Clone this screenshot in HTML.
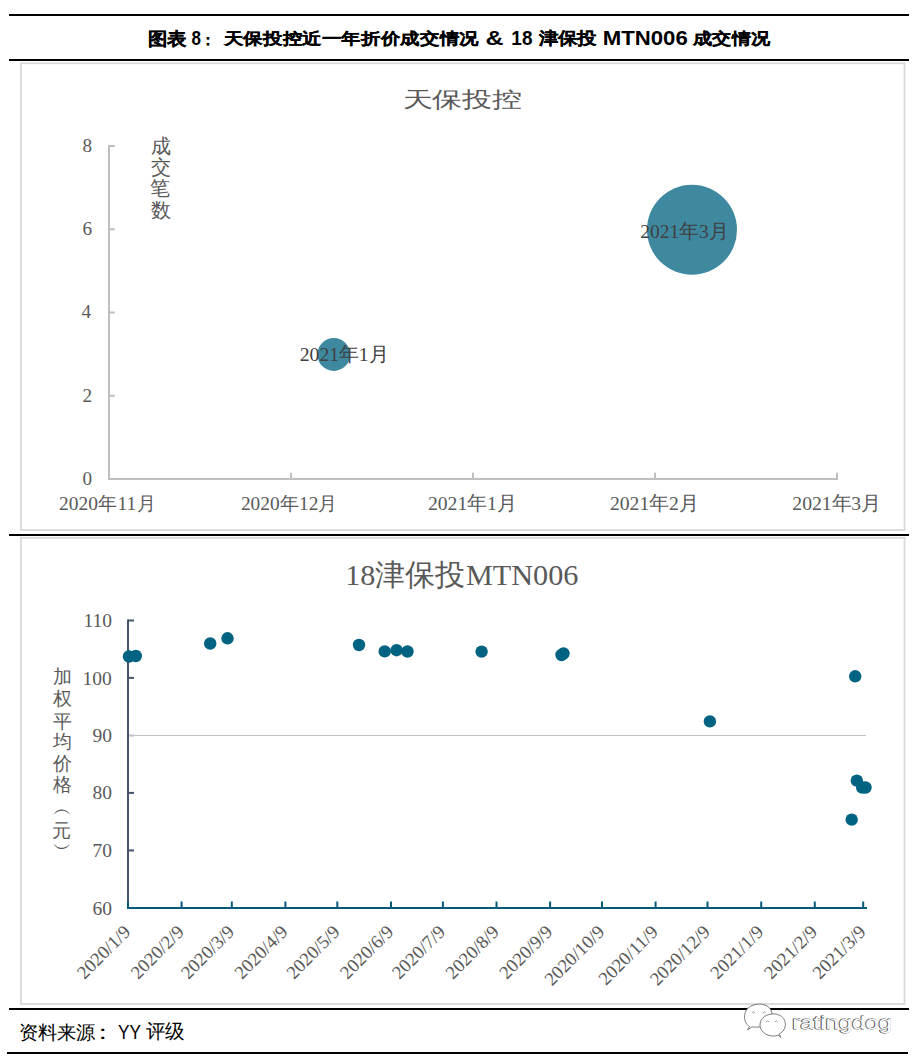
<!DOCTYPE html>
<html><head><meta charset="utf-8">
<style>
html,body{margin:0;padding:0;background:#fff;}
body{width:919px;height:1064px;position:relative;overflow:hidden;}
svg{position:absolute;left:0;top:0;}
</style></head><body>
<svg width="919" height="1064" viewBox="0 0 919 1064">
<rect x="9" y="14" width="900" height="2" fill="#000"/>
<rect x="9" y="59" width="900" height="2" fill="#000"/>
<rect x="9" y="534" width="900" height="2" fill="#000"/>
<rect x="9" y="1008" width="900" height="2" fill="#000"/>
<rect x="7" y="1052" width="901" height="2" fill="#000"/>
<rect x="20.9" y="63.3" width="883.6" height="466.7" fill="none" stroke="#d9d9d9" stroke-width="1.8"/>
<rect x="20.9" y="537.8" width="883.6" height="466.2" fill="none" stroke="#d9d9d9" stroke-width="1.8"/>
<g stroke="#bfbfbf" stroke-width="2" fill="none">
<line x1="109" y1="145" x2="109" y2="480"/>
<line x1="108" y1="479" x2="838" y2="479"/>
<line x1="109" y1="146" x2="114.8" y2="146"/>
<line x1="109" y1="229.25" x2="114.8" y2="229.25"/>
<line x1="109" y1="312.5" x2="114.8" y2="312.5"/>
<line x1="109" y1="395.75" x2="114.8" y2="395.75"/>
<line x1="291" y1="472.8" x2="291" y2="479"/>
<line x1="473" y1="472.8" x2="473" y2="479"/>
<line x1="655" y1="472.8" x2="655" y2="479"/>
<line x1="837" y1="472.8" x2="837" y2="479"/>
</g>
<g fill="#3e89a0"><circle cx="333.8" cy="354.5" r="16.4"/><circle cx="692" cy="229.8" r="45"/></g>
<line x1="128" y1="735.5" x2="866" y2="735.5" stroke="#bfbfbf" stroke-width="1"/>
<line x1="128.5" y1="735.5" x2="134.3" y2="735.5" stroke="#bfc3cb" stroke-width="2.2"/>
<g stroke="#44546a" stroke-width="2">
<line x1="128" y1="619.5" x2="128" y2="902"/>
<line x1="128" y1="620.5" x2="134" y2="620.5"/>
<line x1="128" y1="677.9" x2="134" y2="677.9"/>
<line x1="128" y1="792.9" x2="134" y2="792.9"/>
<line x1="128" y1="850.44" x2="134" y2="850.44"/>
</g>
<g stroke="#03597a" stroke-width="2">
<line x1="128" y1="902" x2="128" y2="909"/>
<line x1="127" y1="908" x2="867" y2="908"/>
<line x1="181.6" y1="901.5" x2="181.6" y2="908"/>
<line x1="231.8" y1="901.5" x2="231.8" y2="908"/>
<line x1="285.4" y1="901.5" x2="285.4" y2="908"/>
<line x1="337.3" y1="901.5" x2="337.3" y2="908"/>
<line x1="391.0" y1="901.5" x2="391.0" y2="908"/>
<line x1="442.9" y1="901.5" x2="442.9" y2="908"/>
<line x1="496.5" y1="901.5" x2="496.5" y2="908"/>
<line x1="550.1" y1="901.5" x2="550.1" y2="908"/>
<line x1="602.0" y1="901.5" x2="602.0" y2="908"/>
<line x1="655.6" y1="901.5" x2="655.6" y2="908"/>
<line x1="707.5" y1="901.5" x2="707.5" y2="908"/>
<line x1="761.2" y1="901.5" x2="761.2" y2="908"/>
<line x1="814.8" y1="901.5" x2="814.8" y2="908"/>
<line x1="863.2" y1="901.5" x2="863.2" y2="908"/>
</g>
<text transform="translate(131.5,933) rotate(-45)" text-anchor="end" font-size="18.67" font-family='"Liberation Serif", serif' fill="#595959">2020/1/9</text>
<text transform="translate(185.1,933) rotate(-45)" text-anchor="end" font-size="18.67" font-family='"Liberation Serif", serif' fill="#595959">2020/2/9</text>
<text transform="translate(235.3,933) rotate(-45)" text-anchor="end" font-size="18.67" font-family='"Liberation Serif", serif' fill="#595959">2020/3/9</text>
<text transform="translate(288.9,933) rotate(-45)" text-anchor="end" font-size="18.67" font-family='"Liberation Serif", serif' fill="#595959">2020/4/9</text>
<text transform="translate(340.8,933) rotate(-45)" text-anchor="end" font-size="18.67" font-family='"Liberation Serif", serif' fill="#595959">2020/5/9</text>
<text transform="translate(394.5,933) rotate(-45)" text-anchor="end" font-size="18.67" font-family='"Liberation Serif", serif' fill="#595959">2020/6/9</text>
<text transform="translate(446.4,933) rotate(-45)" text-anchor="end" font-size="18.67" font-family='"Liberation Serif", serif' fill="#595959">2020/7/9</text>
<text transform="translate(500.0,933) rotate(-45)" text-anchor="end" font-size="18.67" font-family='"Liberation Serif", serif' fill="#595959">2020/8/9</text>
<text transform="translate(553.6,933) rotate(-45)" text-anchor="end" font-size="18.67" font-family='"Liberation Serif", serif' fill="#595959">2020/9/9</text>
<text transform="translate(605.5,933) rotate(-45)" text-anchor="end" font-size="18.67" font-family='"Liberation Serif", serif' fill="#595959">2020/10/9</text>
<text transform="translate(659.1,933) rotate(-45)" text-anchor="end" font-size="18.67" font-family='"Liberation Serif", serif' fill="#595959">2020/11/9</text>
<text transform="translate(711.0,933) rotate(-45)" text-anchor="end" font-size="18.67" font-family='"Liberation Serif", serif' fill="#595959">2020/12/9</text>
<text transform="translate(764.7,933) rotate(-45)" text-anchor="end" font-size="18.67" font-family='"Liberation Serif", serif' fill="#595959">2021/1/9</text>
<text transform="translate(818.3,933) rotate(-45)" text-anchor="end" font-size="18.67" font-family='"Liberation Serif", serif' fill="#595959">2021/2/9</text>
<text transform="translate(866.8,933) rotate(-45)" text-anchor="end" font-size="18.67" font-family='"Liberation Serif", serif' fill="#595959">2021/3/9</text>
<g fill="#006381"><circle cx="129" cy="656.5" r="6.2"/><circle cx="135.8" cy="656" r="6.2"/><circle cx="210.2" cy="643.5" r="6.2"/><circle cx="227.5" cy="638.3" r="6.2"/><circle cx="359" cy="645" r="6.2"/><circle cx="384.7" cy="651.4" r="6.2"/><circle cx="396.6" cy="650.2" r="6.2"/><circle cx="407.5" cy="651.5" r="6.2"/><circle cx="481.6" cy="651.6" r="6.2"/><circle cx="561.5" cy="655" r="6.2"/><circle cx="563.5" cy="653.5" r="6.2"/><circle cx="709.9" cy="721.4" r="6.2"/><circle cx="855.2" cy="676.3" r="6.2"/><circle cx="856.8" cy="780.6" r="6.2"/><circle cx="862.2" cy="787.5" r="6.2"/><circle cx="865.5" cy="787.5" r="6.2"/><circle cx="851.7" cy="819.6" r="6.2"/></g>
<g stroke="#6e6e6e" stroke-width="0.9" fill="#fff">
<path d="M749.5 1026.5 C742 1022 743 1009 752 1005.5 C760 1002.5 770 1004 772 1013 C773 1019 768 1026 759 1027 C756 1027.3 753 1027 752 1026.8 L747.5 1030 Z"/>
<path d="M779 1034 C788 1030 787 1018 779 1015 C772 1012 761 1015 760 1024 C759.5 1031 766 1036 773 1036 C775 1036 777 1035.5 778 1035 L781 1037.5 Z"/>
</g>
<g stroke="#888" stroke-width="0.8" fill="none">
<path d="M752 1013 q1.5 -2.5 3 0"/><path d="M762.8 1013 q1.5 -2.5 3 0"/>
<path d="M766 1022 q1.5 -2.2 3 0"/><path d="M774.8 1022 q1.5 -2.2 3 0"/>
</g>
<g transform="matrix(0.9487 0 0 0.8800 147.95 44.86)"><text x="0.00" y="0" font-size="20.00" font-family='"Liberation Sans", sans-serif' font-weight="bold" fill="#000" stroke="#000" stroke-width="0.25" style="white-space:pre">图表</text></g>
<g transform="matrix(0.8500 0 0 1.0500 191.55 44.70)"><text x="0.00" y="0" font-size="20.00" font-family='"Liberation Sans", sans-serif' font-weight="bold" fill="#000" style="white-space:pre">8</text></g>
<g transform="matrix(0.7000 0 0 0.7583 201.20 44.74)"><text x="0.00" y="0" font-size="20.00" font-family='"Liberation Sans", sans-serif' font-weight="bold" fill="#000" stroke="#000" stroke-width="0.25" style="white-space:pre">：</text></g>
<g transform="matrix(0.9692 0 0 0.8000 223.70 44.30)"><text x="0.00" y="0" font-size="20.00" font-family='"Liberation Sans", sans-serif' font-weight="bold" fill="#000" stroke="#000" stroke-width="0.25" style="white-space:pre">天保投控近一年折价成交情况</text></g>
<g transform="matrix(1.2462 0 0 1.0500 485.55 44.70)"><text x="0.00" y="0" font-size="20.00" font-family='"Liberation Sans", sans-serif' font-weight="bold" fill="#000" style="white-space:pre">&amp;</text></g>
<g transform="matrix(0.9476 0 0 1.0500 511.35 44.70)"><text x="0.00" y="0" font-size="20.00" font-family='"Liberation Sans", sans-serif' font-weight="bold" fill="#000" style="white-space:pre">18</text></g>
<g transform="matrix(0.9583 0 0 0.8381 539.10 44.15)"><text x="0.00" y="0" font-size="20.00" font-family='"Liberation Sans", sans-serif' font-weight="bold" fill="#000" stroke="#000" stroke-width="0.25" style="white-space:pre">津保投</text></g>
<g transform="matrix(1.1093 0 0 1.0500 602.69 44.70)"><text x="0.00" y="0" font-size="20.00" font-family='"Liberation Sans", sans-serif' font-weight="bold" fill="#000" style="white-space:pre">MTN006</text></g>
<g transform="matrix(0.9550 0 0 0.8000 692.60 44.30)"><text x="0.00" y="0" font-size="20.00" font-family='"Liberation Sans", sans-serif' font-weight="bold" fill="#000" stroke="#000" stroke-width="0.25" style="white-space:pre">成交情况</text></g>
<g transform="matrix(1.0327 0 0 0.7571 402.63 107.07)"><text x="0.00" y="0" font-size="29.00" font-family='"Liberation Serif", serif' fill="#595959" style="white-space:pre">天保投控</text></g>
<g transform="matrix(1.0000 0 0 1.0000 82.40 152.20)"><text x="0.00" y="0" font-size="19.20" font-family='"Liberation Serif", serif' fill="#595959" style="white-space:pre">8</text></g>
<g transform="matrix(1.0000 0 0 1.0000 82.40 235.20)"><text x="0.00" y="0" font-size="19.20" font-family='"Liberation Serif", serif' fill="#595959" style="white-space:pre">6</text></g>
<g transform="matrix(1.0000 0 0 1.0000 81.40 318.20)"><text x="0.00" y="0" font-size="19.20" font-family='"Liberation Serif", serif' fill="#595959" style="white-space:pre">4</text></g>
<g transform="matrix(1.0000 0 0 1.0000 82.40 401.70)"><text x="0.00" y="0" font-size="19.20" font-family='"Liberation Serif", serif' fill="#595959" style="white-space:pre">2</text></g>
<g transform="matrix(1.0000 0 0 1.0000 82.40 484.70)"><text x="0.00" y="0" font-size="19.20" font-family='"Liberation Serif", serif' fill="#595959" style="white-space:pre">0</text></g>
<g transform="matrix(1.0416 0 0 1.0416 59.06 510.10)"><text x="0.00" y="0" font-size="18.67" font-family='"Liberation Serif", serif' fill="#595959" style="white-space:pre">2020</text>
<text x="37.34" y="0" font-size="18.67" font-family='"Liberation Serif", serif' fill="#595959" style="white-space:pre">年</text>
<text x="56.01" y="0" font-size="18.67" font-family='"Liberation Serif", serif' fill="#595959" style="white-space:pre">11</text>
<text x="74.68" y="0" font-size="18.67" font-family='"Liberation Serif", serif' fill="#595959" style="white-space:pre">月</text></g>
<g transform="matrix(1.0360 0 0 1.0360 240.96 510.10)"><text x="0.00" y="0" font-size="18.67" font-family='"Liberation Serif", serif' fill="#595959" style="white-space:pre">2020</text>
<text x="37.34" y="0" font-size="18.67" font-family='"Liberation Serif", serif' fill="#595959" style="white-space:pre">年</text>
<text x="56.01" y="0" font-size="18.67" font-family='"Liberation Serif", serif' fill="#595959" style="white-space:pre">12</text>
<text x="74.68" y="0" font-size="18.67" font-family='"Liberation Serif", serif' fill="#595959" style="white-space:pre">月</text></g>
<g transform="matrix(1.0532 0 0 1.0532 427.95 510.10)"><text x="0.00" y="0" font-size="18.67" font-family='"Liberation Serif", serif' fill="#595959" style="white-space:pre">2021</text>
<text x="37.34" y="0" font-size="18.67" font-family='"Liberation Serif", serif' fill="#595959" style="white-space:pre">年</text>
<text x="56.01" y="0" font-size="18.67" font-family='"Liberation Serif", serif' fill="#595959" style="white-space:pre">1</text>
<text x="65.34" y="0" font-size="18.67" font-family='"Liberation Serif", serif' fill="#595959" style="white-space:pre">月</text></g>
<g transform="matrix(1.0532 0 0 1.0532 609.95 510.10)"><text x="0.00" y="0" font-size="18.67" font-family='"Liberation Serif", serif' fill="#595959" style="white-space:pre">2021</text>
<text x="37.34" y="0" font-size="18.67" font-family='"Liberation Serif", serif' fill="#595959" style="white-space:pre">年</text>
<text x="56.01" y="0" font-size="18.67" font-family='"Liberation Serif", serif' fill="#595959" style="white-space:pre">2</text>
<text x="65.34" y="0" font-size="18.67" font-family='"Liberation Serif", serif' fill="#595959" style="white-space:pre">月</text></g>
<g transform="matrix(1.0532 0 0 1.0532 792.35 510.10)"><text x="0.00" y="0" font-size="18.67" font-family='"Liberation Serif", serif' fill="#595959" style="white-space:pre">2021</text>
<text x="37.34" y="0" font-size="18.67" font-family='"Liberation Serif", serif' fill="#595959" style="white-space:pre">年</text>
<text x="56.01" y="0" font-size="18.67" font-family='"Liberation Serif", serif' fill="#595959" style="white-space:pre">3</text>
<text x="65.34" y="0" font-size="18.67" font-family='"Liberation Serif", serif' fill="#595959" style="white-space:pre">月</text></g>
<g transform="matrix(1.0532 0 0 1.0532 299.75 360.70)"><text x="0.00" y="0" font-size="18.67" font-family='"Liberation Serif", serif' fill="#404040" style="white-space:pre">2021</text>
<text x="37.34" y="0" font-size="18.67" font-family='"Liberation Serif", serif' fill="#404040" style="white-space:pre">年</text>
<text x="56.01" y="0" font-size="18.67" font-family='"Liberation Serif", serif' fill="#404040" style="white-space:pre">1</text>
<text x="65.34" y="0" font-size="18.67" font-family='"Liberation Serif", serif' fill="#404040" style="white-space:pre">月</text></g>
<g transform="matrix(1.0468 0 0 1.0468 640.25 237.90)"><text x="0.00" y="0" font-size="18.67" font-family='"Liberation Serif", serif' fill="#404040" style="white-space:pre">2021</text>
<text x="37.34" y="0" font-size="18.67" font-family='"Liberation Serif", serif' fill="#404040" style="white-space:pre">年</text>
<text x="56.01" y="0" font-size="18.67" font-family='"Liberation Serif", serif' fill="#404040" style="white-space:pre">3</text>
<text x="65.34" y="0" font-size="18.67" font-family='"Liberation Serif", serif' fill="#404040" style="white-space:pre">月</text></g>
<g transform="matrix(1.0000 0 0 1.0000 150.90 152.65)"><text x="0.00" y="0" font-size="20.00" font-family='"Liberation Serif", serif' fill="#595959" style="white-space:pre">成</text></g>
<g transform="matrix(1.0000 0 0 1.0000 150.90 173.85)"><text x="0.00" y="0" font-size="20.00" font-family='"Liberation Serif", serif' fill="#595959" style="white-space:pre">交</text></g>
<g transform="matrix(1.0000 0 0 1.0000 150.40 195.45)"><text x="0.00" y="0" font-size="20.00" font-family='"Liberation Serif", serif' fill="#595959" style="white-space:pre">笔</text></g>
<g transform="matrix(1.0000 0 0 1.0000 151.40 217.00)"><text x="0.00" y="0" font-size="20.00" font-family='"Liberation Serif", serif' fill="#595959" style="white-space:pre">数</text></g>
<g transform="matrix(0.9737 0 0 0.9737 345.28 585.00)"><text x="0.00" y="0" font-size="31.00" font-family='"Liberation Serif", serif' fill="#595959" style="white-space:pre">18</text>
<text x="31.00" y="0" font-size="31.00" font-family='"Liberation Serif", serif' fill="#595959" style="white-space:pre">津保投</text>
<text x="124.00" y="0" font-size="31.00" font-family='"Liberation Serif", serif' fill="#595959" style="white-space:pre">MTN006</text></g>
<g transform="matrix(1.0000 0 0 1.0000 83.40 626.90)"><text x="0.00" y="0" font-size="19.50" font-family='"Liberation Serif", serif' fill="#595959" style="white-space:pre">110</text></g>
<g transform="matrix(1.0000 0 0 1.0000 82.40 684.70)"><text x="0.00" y="0" font-size="19.50" font-family='"Liberation Serif", serif' fill="#595959" style="white-space:pre">100</text></g>
<g transform="matrix(1.0000 0 0 1.0000 92.40 742.10)"><text x="0.00" y="0" font-size="19.50" font-family='"Liberation Serif", serif' fill="#595959" style="white-space:pre">90</text></g>
<g transform="matrix(1.0000 0 0 1.0000 92.40 799.30)"><text x="0.00" y="0" font-size="19.50" font-family='"Liberation Serif", serif' fill="#595959" style="white-space:pre">80</text></g>
<g transform="matrix(1.0000 0 0 1.0000 92.40 857.00)"><text x="0.00" y="0" font-size="19.50" font-family='"Liberation Serif", serif' fill="#595959" style="white-space:pre">70</text></g>
<g transform="matrix(1.0000 0 0 1.0000 92.40 914.50)"><text x="0.00" y="0" font-size="19.50" font-family='"Liberation Serif", serif' fill="#595959" style="white-space:pre">60</text></g>
<g transform="matrix(1.0000 0 0 1.0000 52.60 683.00)"><text x="0.00" y="0" font-size="19.00" font-family='"Liberation Serif", serif' fill="#595959" style="white-space:pre">加</text></g>
<g transform="matrix(1.0000 0 0 1.0000 52.60 704.50)"><text x="0.00" y="0" font-size="19.00" font-family='"Liberation Serif", serif' fill="#595959" style="white-space:pre">权</text></g>
<g transform="matrix(1.0000 0 0 1.0000 52.60 727.70)"><text x="0.00" y="0" font-size="19.00" font-family='"Liberation Serif", serif' fill="#595959" style="white-space:pre">平</text></g>
<g transform="matrix(1.0000 0 0 1.0000 52.60 747.90)"><text x="0.00" y="0" font-size="19.00" font-family='"Liberation Serif", serif' fill="#595959" style="white-space:pre">均</text></g>
<g transform="matrix(1.0000 0 0 1.0000 52.60 770.00)"><text x="0.00" y="0" font-size="19.00" font-family='"Liberation Serif", serif' fill="#595959" style="white-space:pre">价</text></g>
<g transform="matrix(1.0000 0 0 1.0000 52.60 791.20)"><text x="0.00" y="0" font-size="19.00" font-family='"Liberation Serif", serif' fill="#595959" style="white-space:pre">格</text></g>
<g transform="matrix(1.0000 0 0 1.0000 53.10 815.05)"><text x="0.00" y="0" font-size="19.00" font-family='"Liberation Serif", serif' fill="#595959" style="white-space:pre">︵</text></g>
<g transform="matrix(1.0000 0 0 1.0000 52.10 836.50)"><text x="0.00" y="0" font-size="19.00" font-family='"Liberation Serif", serif' fill="#595959" style="white-space:pre">元</text></g>
<g transform="matrix(1.0000 0 0 1.0000 53.10 854.90)"><text x="0.00" y="0" font-size="19.00" font-family='"Liberation Serif", serif' fill="#595959" style="white-space:pre">︶</text></g>
<g transform="matrix(0.9436 0 0 0.9300 19.01 1038.61)"><text x="0.00" y="0" font-size="20.00" font-family='"Liberation Sans", sans-serif' fill="#000" style="white-space:pre">资料来源</text></g>
<g transform="matrix(1.3000 0 0 1.0200 90.30 1038.60)"><text x="0.00" y="0" font-size="20.00" font-family='"Liberation Sans", sans-serif' fill="#000" style="white-space:pre">：</text></g>
<g transform="matrix(0.8600 0 0 0.9786 117.94 1039.40)"><text x="0.00" y="0" font-size="20.00" font-family='"Liberation Sans", sans-serif' fill="#000" style="white-space:pre">YY</text></g>
<g transform="matrix(0.9538 0 0 0.9789 146.20 1038.46)"><text x="0.00" y="0" font-size="20.00" font-family='"Liberation Sans", sans-serif' fill="#000" style="white-space:pre">评级</text></g>
<g transform="matrix(1.0372 0 0 0.8360 791.76 1029.28)"><text x="0" y="0" font-size="23" font-family='"Liberation Sans", sans-serif' fill="#fff" stroke="#555" stroke-width="1.1">ratingdog</text><text x="0.8" y="-0.5" font-size="23" font-family='"Liberation Sans", sans-serif' fill="#fff">ratingdog</text></g>
</svg>
</body></html>
